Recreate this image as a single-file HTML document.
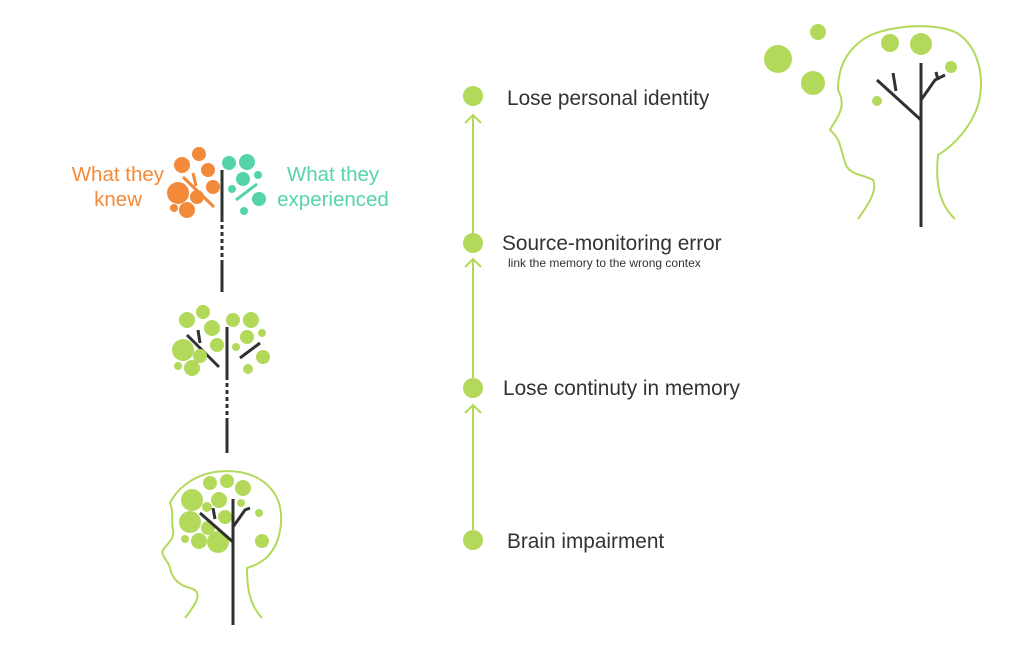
<!DOCTYPE html>
<html><head><style>body{margin:0;background:#fff}svg{display:block}text{font-family:"Liberation Sans",Arial,sans-serif}</style></head><body>
<svg width="1025" height="646" viewBox="0 0 1025 646" xmlns="http://www.w3.org/2000/svg">
<g fill="#b3d95b">
<circle cx="473" cy="96" r="10"/><circle cx="473" cy="243" r="10"/><circle cx="473" cy="388" r="10"/><circle cx="473" cy="540" r="10"/>
</g>
<g stroke="#b3d95b" stroke-width="2" fill="none">
<line x1="473" y1="115" x2="473" y2="233"/><polyline points="465,123 473,115 481,123"/>
<line x1="473" y1="259" x2="473" y2="378"/><polyline points="465,267 473,259 481,267"/>
<line x1="473" y1="405" x2="473" y2="530"/><polyline points="465,413 473,405 481,413"/>
</g>
<g fill="#333" font-size="20.8">
<text x="507" y="105">Lose personal identity</text>
<text x="502" y="250">Source-monitoring error</text>
<text x="503" y="395">Lose continuty in memory</text>
<text x="507" y="548">Brain impairment</text>
</g>
<text x="508" y="267" font-size="12" fill="#333">link the memory to the wrong contex</text>
<g font-size="20.5" fill="#f38a3a" text-anchor="end"><text x="164" y="181">What they</text><text x="142" y="206">knew</text></g>
<g font-size="20.5" fill="#55d4a8" text-anchor="middle"><text x="333" y="181">What they</text><text x="333" y="206">experienced</text></g>
<!-- top tree -->
<g stroke="#2f3330" stroke-width="3"><line x1="222" y1="170" x2="222" y2="218"/><line x1="222" y1="218" x2="222" y2="262" stroke-dasharray="4,3"/><line x1="222" y1="262" x2="222" y2="292"/></g>
<g fill="#f38a3a"><circle cx="182" cy="165" r="8"/><circle cx="199" cy="154" r="7"/><circle cx="208" cy="170" r="7"/><circle cx="178" cy="193" r="11"/><circle cx="197" cy="197" r="7"/><circle cx="213" cy="187" r="7"/><circle cx="187" cy="210" r="8"/><circle cx="174" cy="208" r="4"/></g>
<g stroke="#f38a3a" stroke-width="3" fill="none"><line x1="183" y1="177" x2="214" y2="207"/><line x1="193" y1="173" x2="196" y2="186"/></g>
<g fill="#55d4a8"><circle cx="229" cy="163" r="7"/><circle cx="247" cy="162" r="8"/><circle cx="243" cy="179" r="7"/><circle cx="258" cy="175" r="4"/><circle cx="232" cy="189" r="4"/><circle cx="259" cy="199" r="7"/><circle cx="244" cy="211" r="4"/></g>
<line x1="236" y1="200" x2="257" y2="184" stroke="#55d4a8" stroke-width="3"/>
<!-- middle tree -->
<g stroke="#2f3330" stroke-width="3" fill="none"><line x1="227" y1="327" x2="227" y2="376"/><line x1="227" y1="376" x2="227" y2="420" stroke-dasharray="4,3"/><line x1="227" y1="420" x2="227" y2="453"/>
<line x1="187" y1="335" x2="219" y2="367"/><line x1="198" y1="330" x2="200" y2="343"/><line x1="240" y1="358" x2="260" y2="343"/></g>
<g fill="#b3d95b"><circle cx="187" cy="320" r="8"/><circle cx="203" cy="312" r="7"/><circle cx="212" cy="328" r="8"/><circle cx="183" cy="350" r="11"/><circle cx="200" cy="356" r="7"/><circle cx="217" cy="345" r="7"/><circle cx="192" cy="368" r="8"/><circle cx="178" cy="366" r="4"/>
<circle cx="233" cy="320" r="7"/><circle cx="251" cy="320" r="8"/><circle cx="247" cy="337" r="7"/><circle cx="262" cy="333" r="4"/><circle cx="236" cy="347" r="4"/><circle cx="263" cy="357" r="7"/><circle cx="248" cy="369" r="5"/></g>
<!-- bottom head -->
<path d="M185,618 C195,605 205,592 190,588 C178,585 172,578 170,568 C168,560 160,555 163,550 C168,543 175,538 173,530 C171,522 174,513 170,503 C175,492 190,476 215,472 C245,468 268,478 278,500 C285,520 280,545 266,558 C258,565 250,567 247,568 C247,590 250,605 262,618" fill="none" stroke="#b3d95b" stroke-width="2"/>
<g fill="#b3d95b"><circle cx="192" cy="500" r="11"/><circle cx="210" cy="483" r="7"/><circle cx="227" cy="481" r="7"/><circle cx="243" cy="488" r="8"/><circle cx="219" cy="500" r="8"/><circle cx="207" cy="507" r="5"/><circle cx="190" cy="522" r="11"/><circle cx="208" cy="528" r="7"/><circle cx="225" cy="517" r="7"/><circle cx="241" cy="503" r="4"/><circle cx="259" cy="513" r="4"/><circle cx="199" cy="541" r="8"/><circle cx="218" cy="542" r="11"/><circle cx="185" cy="539" r="4"/><circle cx="262" cy="541" r="7"/></g>
<g stroke="#2f3330" stroke-width="3" fill="none"><line x1="233" y1="499" x2="233" y2="625"/><line x1="200" y1="513" x2="233" y2="542"/><line x1="213" y1="508" x2="215" y2="519"/><polyline points="233,527 245,510 250,508"/></g>
<!-- right head -->
<path d="M858,219 C868,205 878,190 873,180 C865,175 850,175 846,165 C840,150 842,140 830,130 C835,120 848,108 838,90 C838,70 845,50 867,37 C890,25 935,22 957,33 C980,48 985,80 978,105 C972,125 955,145 938,155 C935,185 940,205 955,219" fill="none" stroke="#b3d95b" stroke-width="2"/>
<g fill="#b3d95b"><circle cx="778" cy="59" r="14"/><circle cx="818" cy="32" r="8"/><circle cx="813" cy="83" r="12"/><circle cx="890" cy="43" r="9"/><circle cx="921" cy="44" r="11"/><circle cx="951" cy="67" r="6"/><circle cx="877" cy="101" r="5"/></g>
<g stroke="#2f3330" stroke-width="3" fill="none"><line x1="921" y1="63" x2="921" y2="227"/><line x1="877" y1="80" x2="921" y2="120"/><line x1="893" y1="73" x2="896" y2="91"/><polyline points="921,100 935,80 945,75"/><line x1="936" y1="72" x2="938" y2="80"/></g>
</svg>
</body></html>
